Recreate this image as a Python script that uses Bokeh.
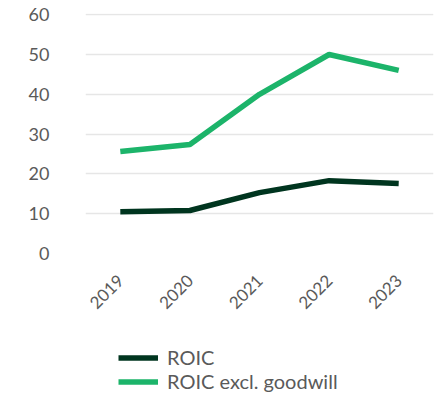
import math
from bokeh.plotting import figure
from bokeh.layouts import column
from bokeh.models import Legend, LegendItem, FixedTicker, Range1d
from bokeh.embed import file_html
from bokeh.resources import INLINE

years = ["2019", "2020", "2021", "2022", "2023"]
roic = [10.5, 10.8, 15.3, 18.3, 17.6]
roic_excl = [25.6, 27.4, 40.0, 50.0, 46.0]
y_ticks = [0, 10, 20, 30, 40, 50, 60]
series_names = ["ROIC", "ROIC excl. goodwill"]
series_colors = ["#00351f", "#1cb46a"]

FONT = "Lato"
TXT = "#5a5a5a"

p = figure(x_range=years, y_range=(0, 60.3), output_backend="svg", toolbar_location=None,
           width=435, height=346, min_border_left=85, min_border_right=2,
           min_border_top=13, min_border_bottom=93)
p.outline_line_color = None
p.background_fill_color = "white"
p.border_fill_color = "white"

p.xgrid.grid_line_color = None
p.ygrid.grid_line_color = "#e6e6e6"
p.ygrid.grid_line_width = 1.5
p.yaxis.ticker = FixedTicker(ticks=y_ticks)
p.x_range.range_padding = 0

for ax in (p.xaxis, p.yaxis):
    ax.axis_line_color = None
    ax.major_tick_line_color = None
    ax.minor_tick_line_color = None
    ax.major_label_text_font = FONT
    ax.major_label_text_color = TXT

p.yaxis.major_label_text_font_size = "18px"
p.xaxis.major_label_text_font_size = "17px"
p.yaxis.major_label_standoff = 30
p.xaxis.major_label_orientation = math.pi / 4
p.xaxis.major_label_standoff = 18

p.line(years, roic, line_color=series_colors[0], line_width=5.5)
p.line(years, roic_excl, line_color=series_colors[1], line_width=5.5)

# legend strip below the chart (helper renderers hold a single point, so draw nothing)
lg = figure(width=435, height=47, x_range=Range1d(0, 1), y_range=Range1d(0, 1),
            x_axis_type=None, y_axis_type=None, output_backend="svg", toolbar_location=None,
            min_border=0)
lg.outline_line_color = None
lg.xgrid.grid_line_color = None
lg.ygrid.grid_line_color = None
items = []
for name, col in zip(series_names, series_colors):
    r = lg.line(x=[-1], y=[-1], line_color=col, line_width=5.5)
    items.append(LegendItem(label=name, renderers=[r]))

legend = Legend(items=items, location=(33, 0), orientation="vertical",
                label_text_font=FONT, label_text_font_size="20px", label_text_color=TXT,
                glyph_width=40, glyph_height=23, label_height=23, spacing=0,
                label_standoff=9, padding=0, margin=0, border_line_color=None,
                background_fill_alpha=0)
lg.add_layout(legend, "center")

open("out.html", "w").write(file_html(column(p, lg, spacing=0), INLINE))
